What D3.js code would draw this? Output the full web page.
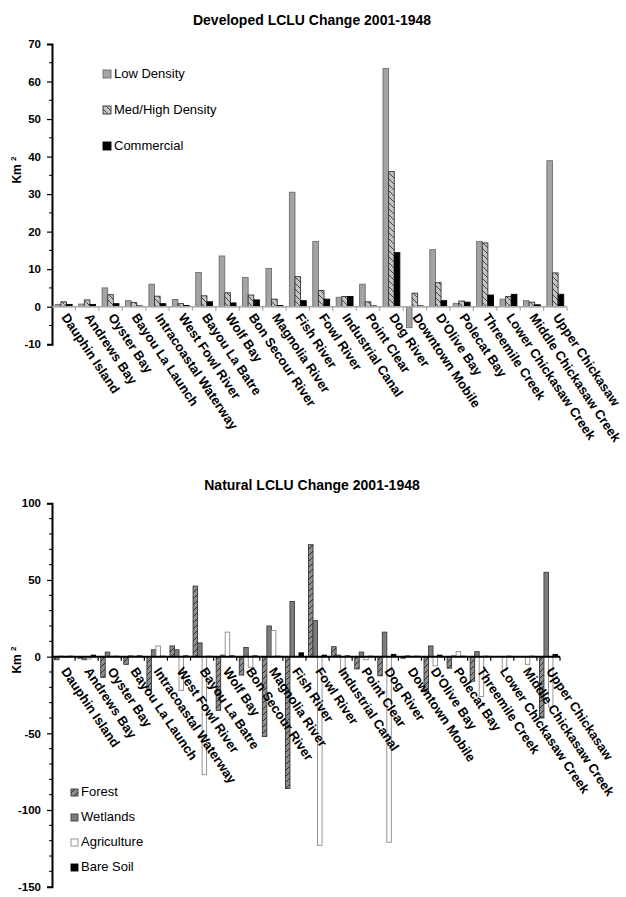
<!DOCTYPE html>
<html>
<head>
<meta charset="utf-8">
<script src="https://cdnjs.cloudflare.com/ajax/libs/d3/7.8.5/d3.min.js"></script>
<style>
body { margin: 0; background: #fff; }
svg { font-family: "Liberation Sans", Arial, sans-serif; }
</style>
</head>
<body>
<svg id="chart" width="626" height="897"></svg>
<script>
// site names, same order in both panels
var sites = ["Dauphin Island", "Andrews Bay", "Oyster Bay", "Bayou La Launch",
  "Intracoastal Waterway", "West Fowl River", "Bayou La Batre", "Wolf Bay",
  "Bon Secour River", "Magnolia River", "Fish River", "Fowl River",
  "Industrial Canal", "Point Clear", "Dog River", "Downtown Mobile",
  "D'Olive Bay", "Polecat Bay", "Threemile Creek", "Lower Chickasaw Creek",
  "Middle Chickasaw Creek", "Upper Chickasaw"];

// developed change (km2)
var lowDensity     = [0.6, 0.7, 5.0, 1.6, 6.0, 1.9, 9.1, 13.5, 7.8, 10.2, 30.5, 17.4, 2.5, 6.0, 63.5, -5.6, 15.2, 0.9, 17.4, 2.0, 1.6, 38.9];
var medHighDensity = [1.3, 1.8, 3.2, 1.1, 2.8, 0.8, 2.9, 3.7, 3.1, 2.0, 8.0, 4.3, 2.7, 1.3, 36.0, 3.6, 6.4, 1.5, 17.0, 2.7, 1.2, 9.0];
var commercial     = [0.6, 0.6, 0.8, 0.2, 0.8, 0.3, 1.3, 1.0, 1.8, 0.3, 1.6, 2.0, 2.7, 0.2, 14.4, 0.2, 1.6, 1.2, 3.1, 3.3, 0.5, 3.3];

// natural change (km2)
var forest      = [-2, -1, -13.5, -5, -22, 7, 46, -35, -12, -52, -86, 73, 6.5, -8, -12.5, -1, -23, -7.5, -16, 0, 0, -40];
var wetlands    = [0.3, -2, 3, 0.5, 4.5, 4.5, 9, 1, 6, 20, 36, 23.5, 1, 3, 16, 0.5, 7, 0.5, 3.3, 0, 0, 55];
var agriculture = [-0.5, -1.5, 0.3, 0.3, 7, -22, -77, 16, -7, 17, 0, -123, -10, -2, -121, 0, -6, 3.3, -26, -9, -5, -33];
var bareSoil    = [0.3, 1, 0.3, 0.5, 0.3, 0.5, 0.3, 0.5, 0.5, 0.3, 2.5, 1, 0.5, 0.3, 1.5, 0.3, 1, 0.3, 0.3, 0.3, 0.3, 1.5];

var devTicks = [-10, 0, 10, 20, 30, 40, 50, 60, 70];
var devMinor = d3.range(-10, 71, 5);
var natTicks = [-150, -100, -50, 0, 50, 100];
var natMinor = d3.range(-150, 101, 10);

var svg = d3.select("#chart");
var defs = svg.append("defs");

// hatch patterns
function hatch(id, bg, ln, dir) {
  var p = defs.append("pattern").attr("id", id)
    .attr("patternUnits", "userSpaceOnUse").attr("width", 6).attr("height", 6);
  p.append("rect").attr("width", 6).attr("height", 6).attr("fill", bg);
  if (dir > 0) {
    p.append("path").attr("d", "M0,6 L6,0 M-1,1 L1,-1 M5,7 L7,5").attr("stroke", ln).attr("stroke-width", 1);
  } else {
    p.append("path").attr("d", "M0,0 L6,6 M-1,5 L1,7 M5,-1 L7,1").attr("stroke", ln).attr("stroke-width", 1);
  }
}
hatch("hatchMed", "#c4c4c4", "#444", -1);
hatch("hatchForest", "#8e8e8e", "#2e2e2e", 1);

var devSeries = [
  {name: "Low Density", values: lowDensity, fill: "#a3a3a3", stroke: "#6e6e6e"},
  {name: "Med/High Density", values: medHighDensity, fill: "url(#hatchMed)", stroke: "#333"},
  {name: "Commercial", values: commercial, fill: "#000", stroke: "#000"}
];
var natSeries = [
  {name: "Forest", values: forest, fill: "url(#hatchForest)", stroke: "#333"},
  {name: "Wetlands", values: wetlands, fill: "#7d7d7d", stroke: "#3c3c3c"},
  {name: "Agriculture", values: agriculture, fill: "#fff", stroke: "#8a8a8a"},
  {name: "Bare Soil", values: bareSoil, fill: "#000", stroke: "#000"}
];

function panel(o) {
  var g = svg.append("g");
  var x = d3.scaleBand().domain(sites).range([o.left, o.right]).padding(0);
  var bw = x.bandwidth();
  var xs = d3.scaleBand().domain(o.series.map(function(s) { return s.name; }))
    .range([bw * o.inset, bw * (1 - o.inset)]).padding(0);
  var y = d3.scaleLinear().domain(o.domain).range(o.yRange);
  var y0 = y(0);

  // title
  g.append("text").attr("x", 312).attr("y", o.titleY).attr("text-anchor", "middle")
    .attr("font-weight", "bold").attr("font-size", 14).text(o.title);

  // bars
  o.series.forEach(function(s) {
    g.selectAll(null).data(s.values).enter().append("rect")
      .attr("x", function(d, i) { return x(sites[i]) + xs(s.name); })
      .attr("width", xs.bandwidth())
      .attr("y", function(d) { return Math.min(y(d), y0); })
      .attr("height", function(d) { return Math.abs(y(d) - y0); })
      .attr("fill", s.fill).attr("stroke", s.stroke).attr("stroke-width", 0.9);
  });

  // y axis (plain hyphen for negatives, as in the source figure)
  var yAxis = d3.axisLeft(y).tickValues(o.ticks).tickSize(5).tickPadding(6)
    .tickFormat(function(d) { return String(d); });
  var ya = g.append("g").attr("transform", "translate(" + o.left + ",0)").call(yAxis);
  ya.select(".domain").attr("stroke", "#000").attr("stroke-width", 2);
  ya.selectAll("line").attr("stroke", "#000").attr("stroke-width", 1.2);
  ya.selectAll("text").attr("font-weight", "bold").attr("font-size", 11.5)
    .attr("font-family", "'Liberation Sans', Arial, sans-serif");
  g.append("g").selectAll(null).data(o.minor.filter(function(v) { return o.ticks.indexOf(v) < 0; }))
    .enter().append("line")
    .attr("x1", o.left - 3).attr("x2", o.left)
    .attr("y1", function(d) { return y(d); }).attr("y2", function(d) { return y(d); })
    .attr("stroke", "#000").attr("stroke-width", 1);

  // y label
  var yl = g.append("text").attr("transform", "translate(" + 21 + "," + o.labelY + ") rotate(-90)")
    .attr("text-anchor", "middle").attr("font-weight", "bold").attr("font-size", 12);
  yl.append("tspan").text("Km ");
  yl.append("tspan").attr("font-size", 8).attr("dy", -5).text("2");

  // zero line + category ticks
  g.append("line").attr("x1", o.left).attr("x2", o.right).attr("y1", y0).attr("y2", y0)
    .attr("stroke", o.zeroColor).attr("stroke-width", o.zeroWidth);
  g.selectAll(null).data(sites).enter().append("line")
    .attr("x1", function(d) { return x(d) + bw; }).attr("x2", function(d) { return x(d) + bw; })
    .attr("y1", y0).attr("y2", y0 + 4)
    .attr("stroke", o.zeroColor).attr("stroke-width", 1.2);

  // category labels
  g.selectAll(null).data(sites).enter().append("text")
    .attr("transform", function(d) {
      return "translate(" + (x(d) + bw / 2 + 1) + "," + (y0 + o.labelGap) + ") rotate(56)";
    })
    .attr("dy", "0.35em").attr("font-weight", "bold").attr("font-size", 13)
    .text(function(d) { return d; });

  // legend
  var lg = g.append("g");
  o.series.forEach(function(s, i) {
    var ly = o.legendY + i * o.legendStep;
    lg.append("rect").attr("x", o.legendX).attr("y", ly - o.sw + 1)
      .attr("width", o.sw).attr("height", o.sw)
      .attr("fill", s.fill).attr("stroke", s.stroke).attr("stroke-width", 0.9);
    lg.append("text").attr("x", o.legendX + o.sw + 3).attr("y", ly + 1)
      .attr("font-size", 13).text(s.name);
  });
}

panel({
  title: "Developed LCLU Change 2001-1948", titleY: 25,
  series: devSeries, left: 52, right: 567, inset: 0.14,
  domain: [-10, 70], yRange: [344.2, 44], ticks: devTicks, minor: devMinor,
  labelY: 170, zeroColor: "#a8a8a8", zeroWidth: 1.5, labelGap: 8,
  legendX: 103, legendY: 77, legendStep: 36, sw: 8
});

panel({
  title: "Natural LCLU Change 2001-1948", titleY: 490,
  series: natSeries, left: 52, right: 560, inset: 0.11,
  domain: [-150, 100], yRange: [886.7, 503.3], ticks: natTicks, minor: natMinor,
  labelY: 660, zeroColor: "#000", zeroWidth: 2, labelGap: 12,
  legendX: 71, legendY: 795, legendStep: 25, sw: 7
});
</script>
</body>
</html>
